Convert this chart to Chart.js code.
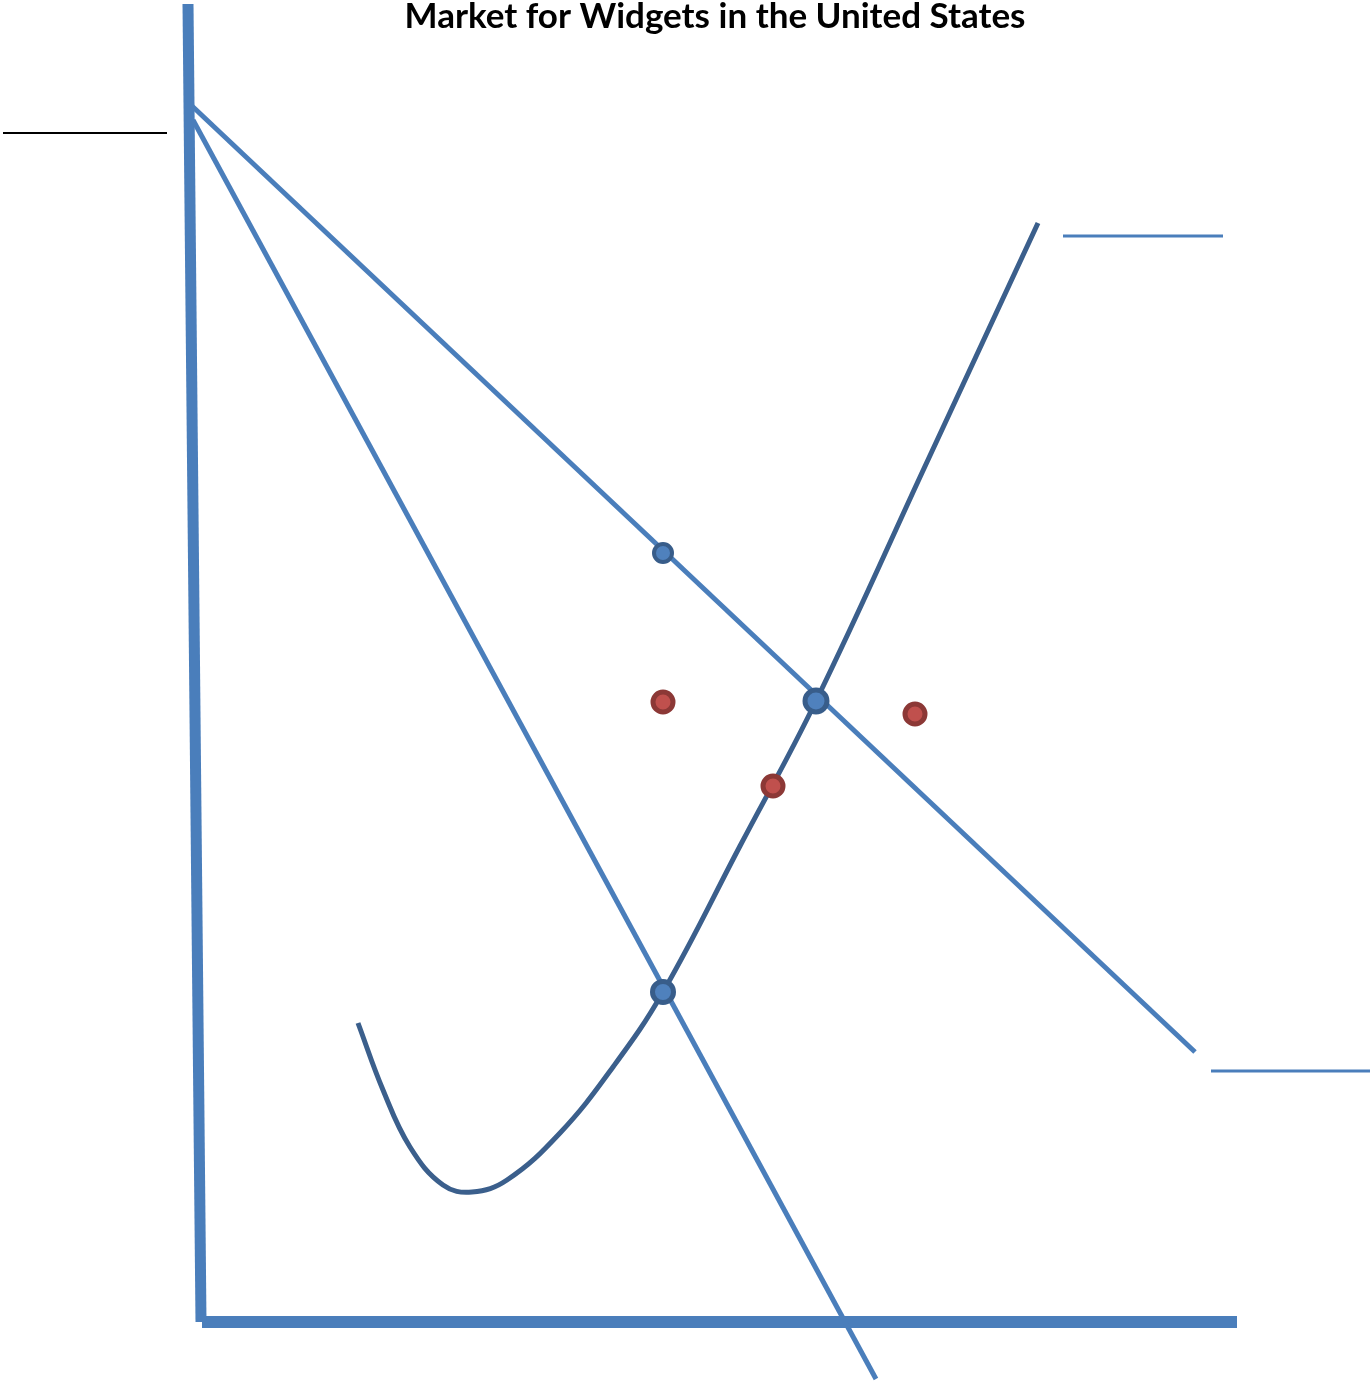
<!DOCTYPE html>
<html lang="en">
<head>
  <meta charset="UTF-8">
  <title>Market for Widgets in the United States</title>
  <script src="https://cdn.jsdelivr.net/npm/chart.js"></script>
  <style>
    body {
      margin: 0;
      background: #ffffff;
      overflow: hidden;
    }
    #wrap {
      width: 1370px;
      height: 1384px;
    }
    canvas {
      display: block;
    }
  </style>
</head>
<body>
  <div id="wrap">
    <canvas id="grafico" width="1370" height="1384"></canvas>
  </div>

  <script>
// quantity / price in chart units (origin at the corner of the axes)
const titulo = 'Market for Widgets in the United States';

const eixoVertical = [{ x: -1.2, y: 131.8 }, { x: 0.1, y: 0 }];
const eixoHorizontal = [{ x: 0.2, y: 0 }, { x: 103.7, y: 0 }];

const demandaPlana = [{ x: -0.8, y: 121.6 }, { x: 99.5, y: 27.0 }];
const demandaInclinada = [{ x: -0.7, y: 120.2 }, { x: 67.6, y: -5.7 }];

const ofertaQ = [15.8, 18.3, 21.0, 24.3, 27.2, 30.7, 36.0, 41.3, 46.3, 54.0, 61.6, 72.7, 83.8];
const ofertaP = [29.9, 23.2, 17.5, 13.7, 13.0, 14.2, 18.9, 25.5, 33.0, 47.6, 62.1, 86.0, 109.9];

const pontosAzuisQ = [46.3, 61.6, 46.3];
const pontosAzuisP = [76.9, 62.1, 33.0];
const pontosVermelhosQ = [46.3, 71.5, 57.3];
const pontosVermelhosP = [62.0, 60.8, 53.6];

// short label lines (labels themselves are blank in the original)
const linhaPreta = [{ x: -19.7, y: 118.9 }, { x: -3.3, y: 118.9 }];
const linhaAzulSup = [{ x: 86.3, y: 108.6 }, { x: 102.3, y: 108.6 }];
const linhaAzulInf = [{ x: 101.1, y: 25.1 }, { x: 117.0, y: 25.1 }];

const azulClaro = '#4a7ebb';
const azulEscuro = '#3b5f8c';

const zip = (qs, ps) => qs.map((q, i) => ({ x: q, y: ps[i] }));

function linha(label, data, cor, largura, ordem) {
  return {
    label,
    data,
    showLine: true,
    borderColor: cor,
    borderWidth: largura,
    pointRadius: 0,
    pointHoverRadius: 0,
    fill: false,
    clip: false,
    order: ordem
  };
}

const tituloPlugin = {
  id: 'tituloPlugin',
  afterDraw(chart) {
    const ctx = chart.ctx;
    ctx.save();
    ctx.font = 'bold 35px Lato';
    ctx.fillStyle = '#000000';
    ctx.textAlign = 'center';
    ctx.textBaseline = 'alphabetic';
    ctx.fillText(titulo, 715, 28);
    ctx.restore();
  }
};

const supply = linha('Oferta', zip(ofertaQ, ofertaP), azulEscuro, 5, 5);
supply.tension = 0.4;

new Chart(document.getElementById('grafico').getContext('2d'), {
  type: 'scatter',
  data: {
    datasets: [
      {
        label: 'Pontos azuis',
        data: zip(pontosAzuisQ, pontosAzuisP),
        backgroundColor: '#4f81bd',
        borderColor: '#385d8a',
        borderWidth: [4, 5, 5],
        pointRadius: [9, 11, 10.5],
        pointHoverRadius: [9, 11, 10.5],
        clip: false,
        order: 0
      },
      {
        label: 'Pontos vermelhos',
        data: zip(pontosVermelhosQ, pontosVermelhosP),
        backgroundColor: '#c0504d',
        borderColor: '#8c3836',
        borderWidth: 5,
        pointRadius: 10,
        pointHoverRadius: 10,
        clip: false,
        order: 0
      },
      linha('Demanda 1', demandaPlana, azulClaro, 5, 4),
      linha('Demanda 2', demandaInclinada, azulClaro, 5, 6),
      supply,
      linha('Eixo P', eixoVertical, '#4a7ebb', 11, 7),
      linha('Eixo Q', eixoHorizontal, '#4a7ebb', 12, 7),
      linha('Rótulo 1', linhaPreta, '#000000', 2, 8),
      linha('Rótulo 2', linhaAzulSup, azulClaro, 3, 8),
      linha('Rótulo 3', linhaAzulInf, azulClaro, 3, 8)
    ]
  },
  options: {
    responsive: false,
    animation: false,
    events: [],
    layout: { padding: 0, autoPadding: false },
    plugins: {
      legend: { display: false },
      tooltip: { enabled: false }
    },
    scales: {
      x: { type: 'linear', display: false, min: -20, max: 117 },
      y: { type: 'linear', display: false, min: -6.2, max: 132.2 }
    }
  },
  plugins: [tituloPlugin]
});
</script>
</body>
</html>
